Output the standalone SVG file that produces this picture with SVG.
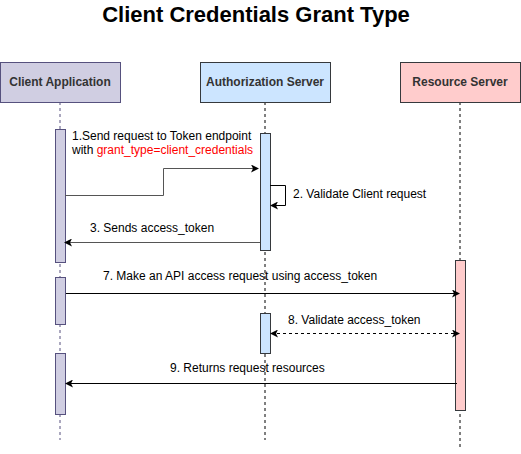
<svg xmlns="http://www.w3.org/2000/svg" width="521" height="454" viewBox="0 0 521 454">
<style>
text{font-family:"Liberation Sans",Arial,sans-serif;font-size:12px;fill:#000}
.title{font-size:22px;font-weight:bold}
.hdr{font-size:12px;font-weight:bold;fill:#333}
.life{stroke:#56517e;stroke-width:1;stroke-dasharray:3,3;fill:none}
.life2{stroke:#000;stroke-width:1;stroke-dasharray:3,3;fill:none}
.cl{fill:#d0cee2;stroke:#56517e}
.au{fill:#cce5ff;stroke:#36393d}
.rs{fill:#ffcccc;stroke:#36393d}
.msg{stroke:#000;fill:none;stroke-width:1}
.gray{stroke:#555}
</style>
<defs>
<marker id="ah" markerWidth="8" markerHeight="8" refX="7" refY="4" orient="auto" markerUnits="userSpaceOnUse">
<path d="M0,0 L8,4 L0,8 L2,4 Z" fill="#000"/>
</marker>
<marker id="ahs" markerWidth="8" markerHeight="8" refX="1" refY="4" orient="auto" markerUnits="userSpaceOnUse">
<path d="M8,0 L0,4 L8,8 L6,4 Z" fill="#000"/>
</marker>
</defs>
<text class="title" x="256" y="22" text-anchor="middle">Client Credentials Grant Type</text>

<g id="client">
<line class="life" x1="60" y1="102" x2="60" y2="440"/>
<rect class="cl" x="0.5" y="62.5" width="120" height="40"/>
<text class="hdr" x="60" y="86" text-anchor="middle">Client Application</text>
<rect class="cl" x="55.5" y="129.5" width="10" height="133"/>
<rect class="cl" x="55.5" y="277.5" width="10" height="47"/>
<rect class="cl" x="55.5" y="353.5" width="10" height="61"/>
</g>
<g id="auth">
<line class="life2" x1="265" y1="102" x2="265" y2="440"/>
<rect class="au" x="200.5" y="62.5" width="130" height="40"/>
<text class="hdr" x="265" y="86" text-anchor="middle">Authorization Server</text>
<rect class="au" x="260.5" y="133.5" width="10" height="117"/>
<rect class="au" x="260.5" y="313.5" width="10" height="40"/>
</g>
<g id="resource">
<line class="life2" x1="460" y1="102" x2="460" y2="450"/>
<rect class="rs" x="400.5" y="62.5" width="120" height="40"/>
<text class="hdr" x="460" y="86" text-anchor="middle">Resource Server</text>
<rect class="rs" x="455.5" y="260.5" width="10" height="150"/>
</g>

<g id="connectors">
<path class="msg gray" d="M65,195.5 H163.5 V168.5 H258" marker-end="url(#ah)"/>
<text x="72" y="140">1.Send request to Token endpoint</text>
<text x="72" y="154">with <tspan fill="#ff0000">grant_type=client_credentials</tspan></text>
<path class="msg" d="M270,185.5 H285.5 V205.5 H271" marker-end="url(#ah)"/>
<text x="293" y="198">2. Validate Client request</text>
<path class="msg gray" d="M260,242.5 H65" marker-end="url(#ah)"/>
<text x="90" y="232">3. Sends access_token</text>
<path class="msg" d="M66,293.5 H459" marker-end="url(#ah)"/>
<text x="103" y="280">7. Make an API access request using access_token</text>
<path class="msg" d="M271,333.5 H459" stroke-dasharray="3,3" marker-start="url(#ahs)" marker-end="url(#ah)"/>
<text x="288" y="324">8. Validate access_token</text>
<path class="msg" d="M457,383.5 H66" marker-end="url(#ah)"/>
<text x="170" y="372">9. Returns request resources</text>
</g>
</svg>
